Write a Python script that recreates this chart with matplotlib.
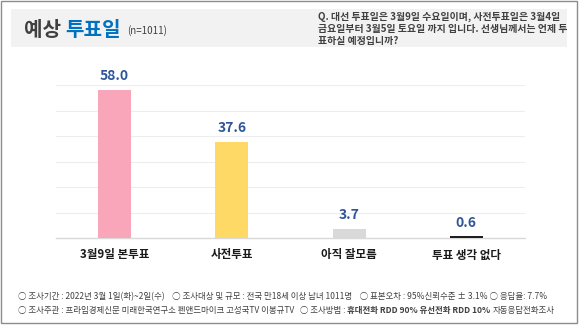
import matplotlib
matplotlib.use("Agg")
import matplotlib.pyplot as plt
from matplotlib.patches import Rectangle

plt.rcParams['font.family'] = ['Noto Sans CJK KR', 'DejaVu Sans']

categories = ["3월9일 본투표", "사전투표", "아직 잘모름", "투표 생각 없다"]
values = [58.0, 37.6, 3.7, 0.6]
bar_colors = ["#F9A6BA", "#FFD966", "#D9D9D9", "#1F1F1F"]
yticks = [0, 10, 20, 30, 40, 50, 60]

title_a = "예상 "
title_b = "투표일"
title_n = "(n=1011)"
question = ("Q. 대선 투표일은 3월9일 수요일이며, 사전투표일은 3월4일\n"
            "금요일부터 3월5일 토요일 까지 입니다. 선생님께서는 언제 투\n"
            "표하실 예정입니까?")
footer1 = ("○ 조사기간 : 2022년 3월 1일(화)~2일(수)    ○ 조사대상 및 규모 : 전국 만18세 이상 남녀 1011명    "
           "○ 표본오차 : 95%신뢰수준 ± 3.1% ○ 응답율: 7.7%")
footer2a = "○ 조사주관 : 프라임경제신문 미래한국연구소 펜앤드마이크 고성국TV 이봉규TV   ○ 조사방법 : "
footer2b = "휴대전화 RDD 90% 유선전화 RDD 10% "
footer2c = "자동응답전화조사"

W, H = 580, 326
fig = plt.figure(figsize=(W / 100, H / 100), dpi=100)
fig.patch.set_facecolor("white")

def fx(px):
    return px / W

def fy(py):
    return 1 - py / H

# outer frame
fig.add_artist(Rectangle((fx(1), fy(323)), fx(576), (322) / H, transform=fig.transFigure,
                         fill=False, edgecolor="#8C8C8C", lw=1.0))
# header box
fig.add_artist(Rectangle((fx(11), fy(47)), fx(556), 38 / H, transform=fig.transFigure,
                         facecolor="#F2F2F2", edgecolor="none"))

t1 = fig.text(fx(24), fy(29), title_a, fontsize=14.5, fontweight="bold", color="#404040",
              va="center", ha="left")
fig.canvas.draw()
r = fig.canvas.get_renderer()
bb = t1.get_window_extent(r)
t2 = fig.text(bb.x1 / W, fy(29), title_b, fontsize=14.5, fontweight="bold", color="#0070C0",
              va="center", ha="left")
bb2 = t2.get_window_extent(r)
fig.text(bb2.x1 / W + fx(6), fy(31), title_n, fontsize=7, color="#404040", va="center", ha="left")

fig.text(fx(318), fy(29), question, fontsize=7.1, fontweight="bold", color="#404040",
         va="center", ha="left", linespacing=1.25)

# chart
ax = fig.add_axes([fx(56), 1 - 238 / H, fx(469), 153 / H])
x = list(range(len(categories)))
ax.bar(x, values, width=0.28, color=bar_colors, zorder=3)
ax.set_xlim(-0.5, 3.5)
ax.set_ylim(0, 60)
ax.set_yticks(yticks)
ax.yaxis.grid(True, color="#EDEDED", lw=0.8, zorder=0)
ax.tick_params(axis="y", left=False, labelleft=False)
ax.tick_params(axis="x", bottom=False, pad=4)
ax.set_xticks(x)
ax.set_xticklabels(categories, fontsize=8.3, fontweight="bold", color="#1A1A1A")
for s in ["top", "right", "left"]:
    ax.spines[s].set_visible(False)
ax.spines["bottom"].set_color("#D9D9D9")
ax.spines["bottom"].set_linewidth(1.0)
ax.set_facecolor("white")
for xi, v in zip(x, values):
    ax.annotate(f"{v:.1f}", (xi, v), xytext=(0, 5), textcoords="offset points",
                ha="center", va="bottom", fontsize=10, fontweight="bold", color="#2F5597")

# footer
fs = 6.1
fig.text(fx(18), fy(297), footer1, fontsize=fs, color="#404040", va="center", ha="left")
f2 = fig.text(fx(18), fy(311), footer2a, fontsize=fs, color="#404040", va="center", ha="left")
fig.canvas.draw()
b = f2.get_window_extent(r)
f3 = fig.text(b.x1 / W, fy(311), footer2b, fontsize=fs, fontweight="bold", color="#404040",
              va="center", ha="left")
b3 = f3.get_window_extent(r)
fig.text(b3.x1 / W, fy(311), footer2c, fontsize=fs, color="#404040", va="center", ha="left")

fig.savefig("out.png", dpi=100, facecolor="white")
